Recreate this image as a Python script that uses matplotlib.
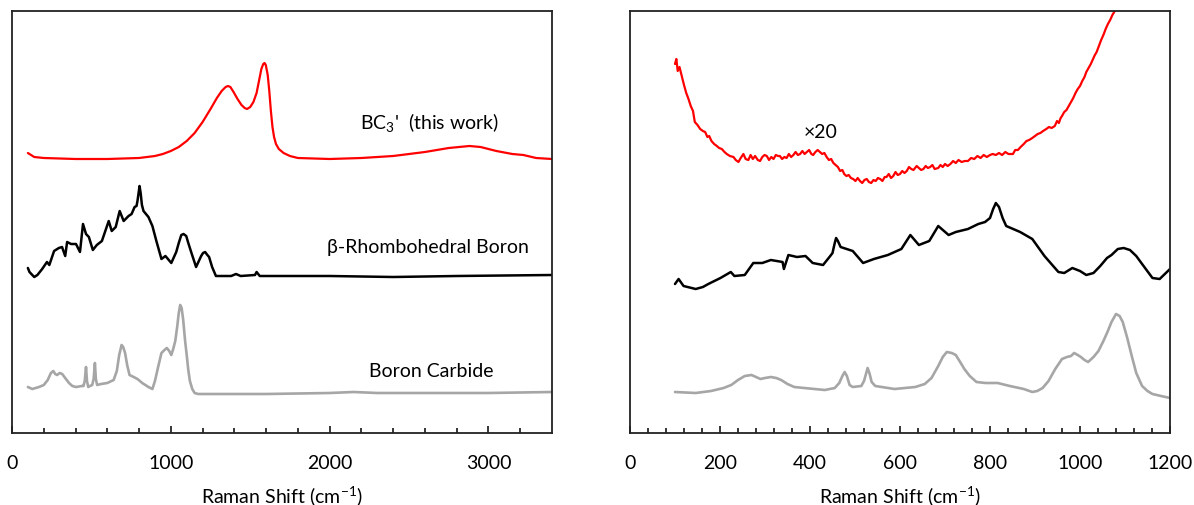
import matplotlib
matplotlib.use("Agg")
import matplotlib.pyplot as plt

plt.rcParams["font.family"] = ["Lato", "DejaVu Sans"]
plt.rcParams["mathtext.fontset"] = "custom"
plt.rcParams["mathtext.rm"] = "Lato"
plt.rcParams["mathtext.it"] = "Lato:italic"

# ---- full range spectra (stacked, arbitrary offset intensity) ----
bc3_x = [100, 140, 200, 400, 600, 800, 900, 950, 1000, 1050, 1100, 1150, 1200, 1250,
         1290, 1320, 1345, 1360, 1375, 1395, 1420, 1445, 1465, 1480, 1500, 1520, 1540,
         1555, 1570, 1582, 1590, 1598, 1610, 1620, 1630, 1640, 1650, 1662, 1680, 1710,
         1750, 1800, 2000, 2200, 2400, 2600, 2750, 2880, 2950, 3050, 3150, 3220, 3300,
         3400]
bc3_y = [280, 276, 275, 274, 274, 275, 277, 279, 282, 286, 292, 300, 311, 324,
         335, 342, 346, 347, 346, 341, 334, 328, 325, 324, 326, 331, 340,
         352, 364, 369, 370, 368, 358, 342, 322, 306, 296, 289, 284, 280,
         277, 275, 274, 275, 277, 281, 285, 287, 286, 282, 279, 278, 275,
         274]

beta_x = [100, 110, 140, 160, 190, 220, 235, 265, 295, 315, 335, 347, 372, 403, 428,
          447, 466, 484, 509, 534, 566, 609, 628, 653, 678, 703, 734, 753, 772, 784,
          790, 797, 803, 810, 818, 828, 859, 884, 909, 941, 966, 1003, 1034, 1050,
          1066, 1080, 1097, 1110, 1128, 1159, 1191, 1203, 1216, 1230, 1241, 1260, 1284,
          1380, 1410, 1440, 1530, 1540, 1560, 1670, 2000, 2400, 2800, 3400]
beta_y = [165, 161, 156, 158, 164, 171, 168, 182, 185, 186, 177, 191, 189, 189, 181,
          209, 199, 196, 183, 188, 192, 212, 202, 206, 222, 212, 217, 219, 226, 227,
          232, 240, 247, 240, 228, 222, 216, 207, 192, 174, 177, 170, 181, 190,
          198, 199, 197, 190, 181, 166, 177, 180, 181, 178, 176, 166, 157,
          157, 159, 157, 158, 161, 157, 157, 157, 156, 157, 158]

b4c_x = [100, 128, 170, 200, 225, 245, 260, 272, 284, 300, 316, 335, 359, 380, 403,
         441, 450, 458, 466, 472, 480, 491, 505, 514, 522, 528, 536, 560, 600, 640,
         660, 675, 690, 700, 712, 725, 740, 766, 790, 820, 859, 884, 900, 920, 941,
         960, 975, 990, 1003, 1015, 1028, 1040, 1050, 1059, 1068, 1078, 1090, 1100,
         1110, 1120, 1135, 1150, 1172, 1300, 1600, 2000, 2150, 2300, 2600, 3000, 3400]
b4c_y = [46, 44, 46, 48, 53, 60, 62, 59, 58, 60, 59, 55, 50, 47, 46,
         47, 47, 52, 66, 52, 46, 47, 48, 54, 70, 54, 48, 49, 50, 53,
         62, 78, 88, 86, 80, 68, 58, 56, 54, 50, 46, 44, 52, 66, 80,
         83, 85, 82, 78, 84, 92, 106, 120, 128, 125, 113, 92, 78,
         63, 52, 44, 40, 39, 39, 39, 40, 41, 40, 40, 40, 41]

# ---- low wavenumber region ----
bc3_lo_x = [100, 103, 106, 110, 115, 120, 125, 130, 135, 140, 144, 150, 156, 162, 167,
            172, 176, 181, 187, 193, 198, 204, 210, 215, 222, 230, 235, 241, 246, 252,
            257, 263, 268, 273, 278, 284, 289, 294, 299, 304, 309, 314, 319, 324, 329,
            333, 338, 343, 348, 353, 358, 363, 368, 373, 378, 383, 388, 393, 398, 403,
            407, 412, 417, 422, 427, 432, 437, 442, 447, 452, 457, 462, 467, 472, 476,
            481, 486, 491, 496, 501, 506, 511, 516, 521, 526, 531, 536, 541, 546, 551,
            556, 561, 566, 570, 575, 580, 585, 590, 595, 600, 605, 610, 615, 620, 625,
            630, 637, 642, 647, 652, 657, 662, 667, 672, 677, 685, 690, 695, 700, 706,
            712, 718, 724, 730, 737, 744, 751, 758, 765, 772, 779, 786, 793, 800, 806,
            813, 820, 827, 834, 841, 847, 851, 856, 862, 868, 875, 881, 887, 894, 900,
            906, 912, 918, 925, 931, 937, 944, 949, 953, 957, 960, 965, 970, 975, 980,
            985, 990, 995, 1000, 1005, 1010, 1014, 1019, 1024, 1029, 1033, 1037, 1042,
            1047, 1052, 1057, 1062, 1067, 1072, 1076, 1082, 1090]
bc3_lo_y = [369, 374, 362, 366, 357, 348, 340, 334, 327, 322, 311, 308, 304, 302, 301,
            296, 297, 292, 289, 287, 285, 284, 281, 279, 277, 276, 273, 271, 275, 279,
            274, 273, 278, 274, 277, 273, 272, 276, 278, 277, 273, 276, 274, 278, 277,
            277, 274, 276, 275, 279, 276, 278, 281, 278, 279, 282, 279, 281, 283, 279,
            278, 281, 283, 281, 279, 280, 276, 273, 274, 270, 268, 266, 262, 263, 259,
            257, 258, 255, 254, 252, 255, 252, 250, 253, 254, 251, 250, 253, 252, 255,
            254, 252, 256, 256, 259, 255, 257, 261, 258, 259, 262, 260, 262, 266, 264,
            263, 267, 265, 263, 264, 267, 265, 266, 268, 264, 265, 268, 266, 269, 267,
            269, 272, 270, 273, 271, 272, 272, 275, 274, 277, 275, 278, 276, 278, 279,
            278, 280, 278, 281, 279, 279, 279, 283, 283, 286, 289, 292, 293, 295, 297,
            299, 300, 302, 304, 306, 305, 307, 312, 310, 315, 317, 321, 323, 327, 331,
            335, 340, 344, 347, 352, 356, 361, 365, 369, 374, 378, 381, 387,
            393, 398, 404, 409, 413, 418, 421, 428, 440]

beta_lo_x = [100, 108, 119, 146, 162, 174, 201, 224, 232, 255, 274, 294, 313, 339, 342,
             352, 371, 390, 406, 429, 445, 450, 455, 458, 462, 468, 495, 518, 542, 573,
             603, 623, 642, 665, 685, 708, 724, 751, 774, 789, 800, 807, 813, 820, 828,
             836, 867, 894, 921, 952, 965, 983, 1000, 1014, 1030, 1045, 1060, 1070, 1084,
             1097, 1111, 1125, 1138, 1161, 1177, 1200]
beta_lo_y = [149, 154, 147, 144, 146, 149, 155, 161, 157, 158, 170, 170, 173, 171, 164,
             178, 176, 177, 170, 168, 177, 180, 190, 195, 192, 186, 182, 170, 174, 178,
             184, 198, 188, 192, 207, 198, 201, 204, 209, 211, 215, 224, 230, 226, 215,
             207, 201, 194, 177, 161, 160, 165, 162, 158, 160, 167, 175, 178, 184,
             185, 183, 177, 169, 155, 154, 164]

b4c_lo_x = [100, 146, 180, 208, 225, 240, 255, 270, 280, 290, 300, 313, 325, 336, 350,
            365, 387, 433, 455, 465, 472, 477, 482, 488, 495, 514, 520, 525, 528, 532,
            537, 545, 588, 634, 655, 670, 685, 695, 704, 715, 724, 735, 743, 755, 770,
            790, 817, 844, 875, 894, 905, 917, 930, 945, 960, 971, 980, 987, 995, 1002,
            1010, 1018, 1030, 1041, 1052, 1061, 1070, 1080, 1088, 1095, 1105, 1115, 1125,
            1138, 1150, 1161, 1180, 1200]
b4c_lo_y = [41, 40, 42, 45, 48, 53, 57, 58, 56, 54, 55, 56, 55, 53, 49,
            46, 45, 43, 45, 50, 57, 61, 57, 48, 46, 47, 52, 60, 65, 60,
            51, 47, 44, 46, 49, 55, 67, 76, 81, 80, 78, 70, 64, 57, 51,
            50, 50, 47, 44, 41, 42, 45, 52, 64, 74, 76, 77, 80, 78, 76,
            73, 71, 76, 82, 92, 101, 111, 119, 117, 111, 95, 77, 60,
            47, 42, 39, 37, 35]

red = "#ff0000"
black = "#000000"
grey = "#a6a6a6"

fig = plt.figure(figsize=(11.94, 5.06), dpi=100)
ax1 = fig.add_axes([12 / 1194, 72 / 506, 540 / 1194, 422 / 506])
ax2 = fig.add_axes([630 / 1194, 72 / 506, 540 / 1194, 422 / 506])

line_kw = dict(solid_joinstyle="round", solid_capstyle="round")
ax1.plot(bc3_x, bc3_y, color=red, lw=1.6, **line_kw)
ax1.plot(beta_x, beta_y, color=black, lw=1.8, **line_kw)
ax1.plot(b4c_x, b4c_y, color=grey, lw=1.9, **line_kw)

ax2.plot(bc3_lo_x, bc3_lo_y, color=red, lw=1.6, **line_kw)
ax2.plot(beta_lo_x, beta_lo_y, color=black, lw=1.8, **line_kw)
ax2.plot(b4c_lo_x, b4c_lo_y, color=grey, lw=1.9, **line_kw)

ax1.text(2630, 312, "BC$_3$'  (this work)", ha="center", va="center", fontsize=14)
ax1.text(2620, 186, "β-Rhombohedral Boron", ha="center", va="center", fontsize=14)
ax1.text(2640, 62, "Boron Carbide", ha="center", va="center", fontsize=14)
ax2.text(424, 302, "×20", ha="center", va="center", fontsize=14)

ax1.set_xlim(0, 3400)
ax1.set_xticks([0, 1000, 2000, 3000])
ax1.set_xticks(range(0, 3400, 200), minor=True)
ax2.set_xlim(0, 1200)
ax2.set_xticks(range(0, 1201, 200))
ax2.set_xticks(range(0, 1200, 40), minor=True)

for ax in (ax1, ax2):
    ax.set_ylim(0, 422)
    ax.set_yticks([])
    for s in ax.spines.values():
        s.set_linewidth(1.3)
        s.set_color("#222222")
    ax.tick_params(axis="x", which="major", direction="in", length=5, width=1.1,
                   pad=15, labelsize=14)
    ax.tick_params(axis="x", which="minor", direction="in", length=3.5, width=1.1)
    ax.set_xlabel("Raman Shift (cm$^{-1}$)", fontsize=14, labelpad=9)

fig.savefig("out.png", dpi=100)
